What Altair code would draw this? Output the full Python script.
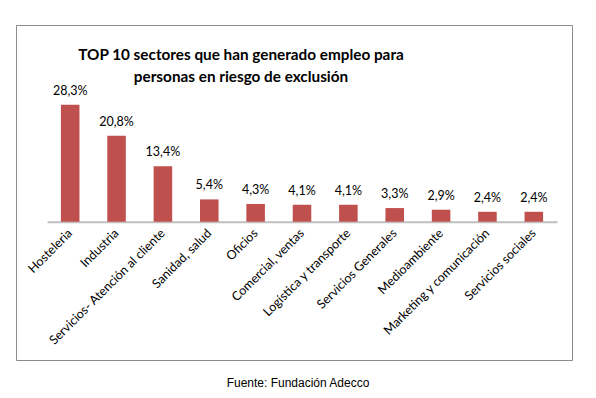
import altair as alt
import pandas as pd

sectores = ["Hosteleria", "Industria", "Servicios- Atención al cliente", "Sanidad, salud",
            "Oficios", "Comercial, ventas", "Logística y transporte", "Servicios Generales",
            "Medioambiente", "Marketing y comunicación", "Servicios sociales"]
valores = [28.3, 20.8, 13.4, 5.4, 4.3, 4.1, 4.1, 3.3, 2.9, 2.4, 2.4]
etiquetas = ["28,3%", "20,8%", "13,4%", "5,4%", "4,3%", "4,1%", "4,1%", "3,3%", "2,9%", "2,4%", "2,4%"]
titulo = ["TOP 10 sectores que han generado empleo para", "personas en riesgo de exclusión"]
fuente = "Fuente: Fundación Adecco"

df = pd.DataFrame({"sector": sectores, "valor": valores, "etiqueta": etiquetas})

W, H = 556, 335
BASE = 196.7

x = alt.X("sector:N", sort=None, title=None,
          scale=alt.Scale(range=[31, 541], paddingInner=0.6, paddingOuter=0.3),
          axis=alt.Axis(offset=-(H - BASE), labelAngle=-45, labelAlign="right",
                        labelBaseline="middle", labelFont="Lato", labelFontSize=12.5,
                        labelColor="#000000", labelPadding=9, ticks=False,
                        domainColor="#BFBFBF", domainWidth=2, labelLimit=300))
y = alt.Y("valor:Q", title=None, axis=None,
          scale=alt.Scale(domain=[0, 30], range=[BASE, BASE - 123.9], nice=False))

base = alt.Chart(df).encode(x=x, y=y)
bars = base.mark_bar(color="#C0504D")
labels = base.mark_text(baseline="bottom", dy=-7, font="Lato", fontSize=12.5,
                        color="#000000").encode(text="etiqueta:N")

title = alt.Chart(pd.DataFrame({"t": [titulo]})).mark_text(
    font="Lato", fontSize=15.3, fontWeight="bold", color="#000000",
    align="center", baseline="middle", lineHeight=22
).encode(x=alt.value(225), y=alt.value(30), text="t:N")

foot = alt.Chart(pd.DataFrame({"t": [fuente]})).mark_text(
    font="Liberation Sans", fontSize=12, color="#000000",
    align="center", baseline="middle"
).encode(x=alt.value(282), y=alt.value(358), text="t:N")

chart = alt.layer(bars, labels, title, foot).properties(
    width=W, height=H,
    autosize=alt.AutoSizeParams(type="none"),
    padding={"left": 8, "top": 17, "right": 16, "bottom": 40},
).configure_view(stroke="#8C8C8C", strokeWidth=1)

chart.save("out.html", embed_options={"renderer": "svg", "actions": False})
